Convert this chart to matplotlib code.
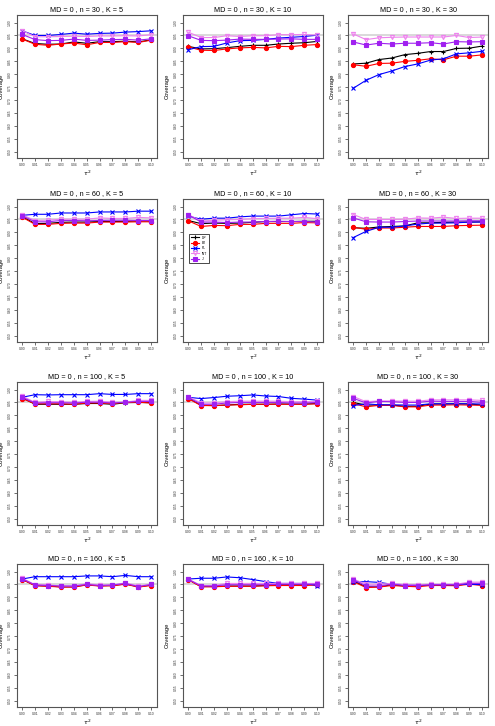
import numpy as np
import matplotlib.pyplot as plt

plt.rcParams["font.family"] = ["Liberation Sans", "DejaVu Sans"]

tau2 = [0.00, 0.01, 0.02, 0.03, 0.04, 0.05, 0.06, 0.07, 0.08, 0.09, 0.10]
tau_labels = ["0.00", "0.01", "0.02", "0.03", "0.04", "0.05", "0.06", "0.07", "0.08", "0.09", "0.10"]
n_vals = [30, 60, 100, 160]
k_vals = [5, 10, 30]
y_ticks = [0.50, 0.55, 0.60, 0.65, 0.70, 0.75, 0.80, 0.85, 0.90, 0.95, 1.00]

# una fila por panel: (n=30,K=5), (30,10), (30,30), (60,5), ... (160,30)
DP = [
    [0.937, 0.919, 0.916, 0.917, 0.925, 0.920, 0.926, 0.926, 0.928, 0.925, 0.933],
    [0.908, 0.898, 0.899, 0.903, 0.908, 0.912, 0.912, 0.917, 0.920, 0.922, 0.927],
    [0.840, 0.843, 0.857, 0.863, 0.876, 0.881, 0.888, 0.888, 0.900, 0.901, 0.909],
    [0.961, 0.934, 0.935, 0.939, 0.940, 0.940, 0.942, 0.942, 0.943, 0.944, 0.944],
    [0.946, 0.934, 0.936, 0.935, 0.936, 0.939, 0.942, 0.942, 0.942, 0.943, 0.943],
    [0.918, 0.916, 0.921, 0.923, 0.925, 0.937, 0.937, 0.939, 0.940, 0.940, 0.941],
    [0.968, 0.943, 0.943, 0.943, 0.943, 0.946, 0.946, 0.943, 0.949, 0.950, 0.949],
    [0.968, 0.939, 0.938, 0.940, 0.943, 0.943, 0.943, 0.944, 0.944, 0.944, 0.946],
    [0.950, 0.940, 0.940, 0.940, 0.935, 0.935, 0.944, 0.944, 0.945, 0.944, 0.940],
    [0.970, 0.946, 0.944, 0.941, 0.941, 0.949, 0.945, 0.946, 0.952, 0.941, 0.948],
    [0.969, 0.942, 0.942, 0.944, 0.944, 0.944, 0.946, 0.949, 0.949, 0.949, 0.950],
    [0.964, 0.941, 0.941, 0.949, 0.944, 0.944, 0.949, 0.949, 0.946, 0.954, 0.949],
]
BJ = [
    [0.936, 0.916, 0.912, 0.917, 0.921, 0.914, 0.923, 0.923, 0.926, 0.923, 0.932],
    [0.906, 0.893, 0.892, 0.898, 0.902, 0.904, 0.902, 0.908, 0.907, 0.912, 0.915],
    [0.837, 0.831, 0.842, 0.843, 0.850, 0.854, 0.860, 0.856, 0.870, 0.870, 0.875],
    [0.959, 0.931, 0.931, 0.935, 0.936, 0.936, 0.940, 0.940, 0.940, 0.941, 0.941],
    [0.945, 0.923, 0.927, 0.926, 0.931, 0.931, 0.935, 0.935, 0.935, 0.938, 0.937],
    [0.920, 0.912, 0.917, 0.917, 0.920, 0.923, 0.923, 0.923, 0.926, 0.927, 0.928],
    [0.965, 0.945, 0.945, 0.945, 0.943, 0.948, 0.948, 0.946, 0.950, 0.951, 0.948],
    [0.965, 0.938, 0.938, 0.940, 0.941, 0.943, 0.943, 0.943, 0.943, 0.943, 0.945],
    [0.946, 0.933, 0.939, 0.939, 0.933, 0.933, 0.940, 0.940, 0.941, 0.940, 0.939],
    [0.969, 0.945, 0.943, 0.940, 0.940, 0.948, 0.944, 0.945, 0.951, 0.940, 0.946],
    [0.968, 0.941, 0.941, 0.943, 0.943, 0.943, 0.945, 0.946, 0.946, 0.946, 0.948],
    [0.961, 0.938, 0.940, 0.946, 0.943, 0.941, 0.946, 0.946, 0.945, 0.951, 0.946],
]
PL = [
    [0.968, 0.950, 0.950, 0.954, 0.959, 0.955, 0.958, 0.959, 0.963, 0.965, 0.968],
    [0.895, 0.907, 0.908, 0.921, 0.930, 0.931, 0.935, 0.940, 0.943, 0.946, 0.951],
    [0.746, 0.777, 0.799, 0.813, 0.830, 0.840, 0.855, 0.860, 0.879, 0.883, 0.889],
    [0.966, 0.970, 0.970, 0.975, 0.975, 0.975, 0.979, 0.979, 0.979, 0.982, 0.982],
    [0.963, 0.951, 0.955, 0.955, 0.960, 0.963, 0.963, 0.963, 0.968, 0.973, 0.971],
    [0.880, 0.904, 0.920, 0.920, 0.925, 0.932, 0.936, 0.936, 0.937, 0.940, 0.940],
    [0.970, 0.980, 0.979, 0.980, 0.980, 0.980, 0.984, 0.981, 0.981, 0.984, 0.984],
    [0.970, 0.965, 0.969, 0.974, 0.976, 0.979, 0.975, 0.973, 0.966, 0.963, 0.959],
    [0.938, 0.945, 0.941, 0.941, 0.940, 0.940, 0.945, 0.945, 0.945, 0.945, 0.944],
    [0.971, 0.980, 0.980, 0.980, 0.980, 0.983, 0.983, 0.980, 0.985, 0.980, 0.980],
    [0.971, 0.974, 0.974, 0.979, 0.976, 0.969, 0.961, 0.954, 0.954, 0.954, 0.946],
    [0.959, 0.961, 0.958, 0.951, 0.949, 0.949, 0.949, 0.949, 0.949, 0.951, 0.949],
]
INT = [
    [0.969, 0.945, 0.945, 0.946, 0.947, 0.946, 0.948, 0.948, 0.949, 0.948, 0.953],
    [0.963, 0.942, 0.942, 0.949, 0.946, 0.949, 0.949, 0.953, 0.953, 0.954, 0.951],
    [0.956, 0.934, 0.941, 0.943, 0.944, 0.944, 0.944, 0.944, 0.950, 0.942, 0.944],
    [0.968, 0.946, 0.947, 0.951, 0.951, 0.951, 0.956, 0.954, 0.954, 0.958, 0.956],
    [0.969, 0.944, 0.947, 0.949, 0.950, 0.953, 0.954, 0.955, 0.955, 0.958, 0.953],
    [0.969, 0.950, 0.950, 0.950, 0.951, 0.956, 0.955, 0.959, 0.954, 0.955, 0.955],
    [0.975, 0.950, 0.954, 0.953, 0.950, 0.954, 0.955, 0.951, 0.951, 0.958, 0.958],
    [0.973, 0.948, 0.948, 0.953, 0.955, 0.955, 0.955, 0.955, 0.953, 0.953, 0.954],
    [0.973, 0.953, 0.956, 0.956, 0.955, 0.955, 0.960, 0.960, 0.960, 0.960, 0.958],
    [0.974, 0.949, 0.949, 0.944, 0.944, 0.953, 0.948, 0.948, 0.956, 0.944, 0.951],
    [0.971, 0.946, 0.946, 0.954, 0.954, 0.954, 0.954, 0.954, 0.954, 0.954, 0.954],
    [0.971, 0.951, 0.951, 0.954, 0.949, 0.949, 0.951, 0.951, 0.951, 0.959, 0.959],
]
J = [
    [0.954, 0.934, 0.930, 0.931, 0.936, 0.931, 0.932, 0.934, 0.935, 0.932, 0.937],
    [0.949, 0.931, 0.930, 0.932, 0.936, 0.935, 0.935, 0.936, 0.937, 0.935, 0.935],
    [0.925, 0.913, 0.920, 0.917, 0.920, 0.920, 0.922, 0.917, 0.926, 0.925, 0.926],
    [0.964, 0.941, 0.941, 0.946, 0.946, 0.945, 0.946, 0.947, 0.947, 0.946, 0.946],
    [0.968, 0.940, 0.940, 0.938, 0.940, 0.940, 0.942, 0.943, 0.942, 0.942, 0.940],
    [0.956, 0.941, 0.940, 0.940, 0.942, 0.944, 0.944, 0.944, 0.944, 0.945, 0.945],
    [0.970, 0.948, 0.949, 0.949, 0.948, 0.951, 0.951, 0.948, 0.951, 0.954, 0.954],
    [0.970, 0.943, 0.943, 0.948, 0.950, 0.950, 0.950, 0.950, 0.948, 0.948, 0.950],
    [0.966, 0.948, 0.954, 0.953, 0.950, 0.950, 0.955, 0.954, 0.954, 0.954, 0.950],
    [0.972, 0.948, 0.946, 0.944, 0.944, 0.950, 0.946, 0.948, 0.954, 0.942, 0.950],
    [0.970, 0.944, 0.944, 0.949, 0.949, 0.949, 0.949, 0.951, 0.951, 0.951, 0.951],
    [0.969, 0.944, 0.944, 0.951, 0.946, 0.946, 0.949, 0.949, 0.949, 0.954, 0.954],
]

metodos = [
    ("DP", DP, "black", "+", "black"),
    ("BJ", BJ, "red", "o", "red"),
    ("PL", PL, "blue", "x", "blue"),
    ("INT", INT, "violet", "v", "none"),
    ("J", J, "#A020F0", "s", "#A020F0"),
]

W, H = 495, 726
fig = plt.figure(figsize=(W / 100, H / 100), dpi=100)

lefts = [17, 183, 348]
tops = [15, 199, 382, 564]
aw, ah = 140, 143

for r, n in enumerate(n_vals):
    for c, k in enumerate(k_vals):
        idx = r * 3 + c
        ax = fig.add_axes([lefts[c] / W, 1 - (tops[r] + ah) / H, aw / W, ah / H])
        ax.axhline(0.95, color="#d3d3d3", lw=1.2, zorder=1)
        for nombre, datos, col, mk, fc in metodos:
            ax.plot(tau2, datos[idx], color=col, lw=0.8, marker=mk, ms=3,
                    mfc=fc, mec=col, mew=0.8, label=nombre, zorder=2)
        ax.set_xlim(-0.004, 0.1045)
        ax.set_ylim(0.477, 1.029)
        ax.set_xticks(tau2)
        ax.set_xticklabels(tau_labels)
        ax.set_yticks(y_ticks)
        ax.set_yticklabels(["%.2f" % v for v in y_ticks], rotation=90, va="center")
        ax.tick_params(labelsize=2.4, length=2, width=0.5, pad=1.5, colors="#333333")
        for s in ax.spines.values():
            s.set_linewidth(0.8)
            s.set_color("#555555")
        ax.set_title(f"MD = 0 , n = {n} , K = {k}", fontsize=5.2, pad=3)
        ax.set_ylabel("Coverage", fontsize=4.2, labelpad=3)
        ax.set_xlabel(r"$\tau^2$", fontsize=4.5, labelpad=1)
        if r == 1 and c == 1:
            ax.legend(loc="upper left", bbox_to_anchor=(0.03, 0.77), fontsize=2.4,
                      handlelength=2.5, borderpad=0.6, labelspacing=0.4,
                      frameon=True, fancybox=False, edgecolor="black",
                      framealpha=1).get_frame().set_linewidth(0.5)

fig.savefig("out.png", dpi=100)
